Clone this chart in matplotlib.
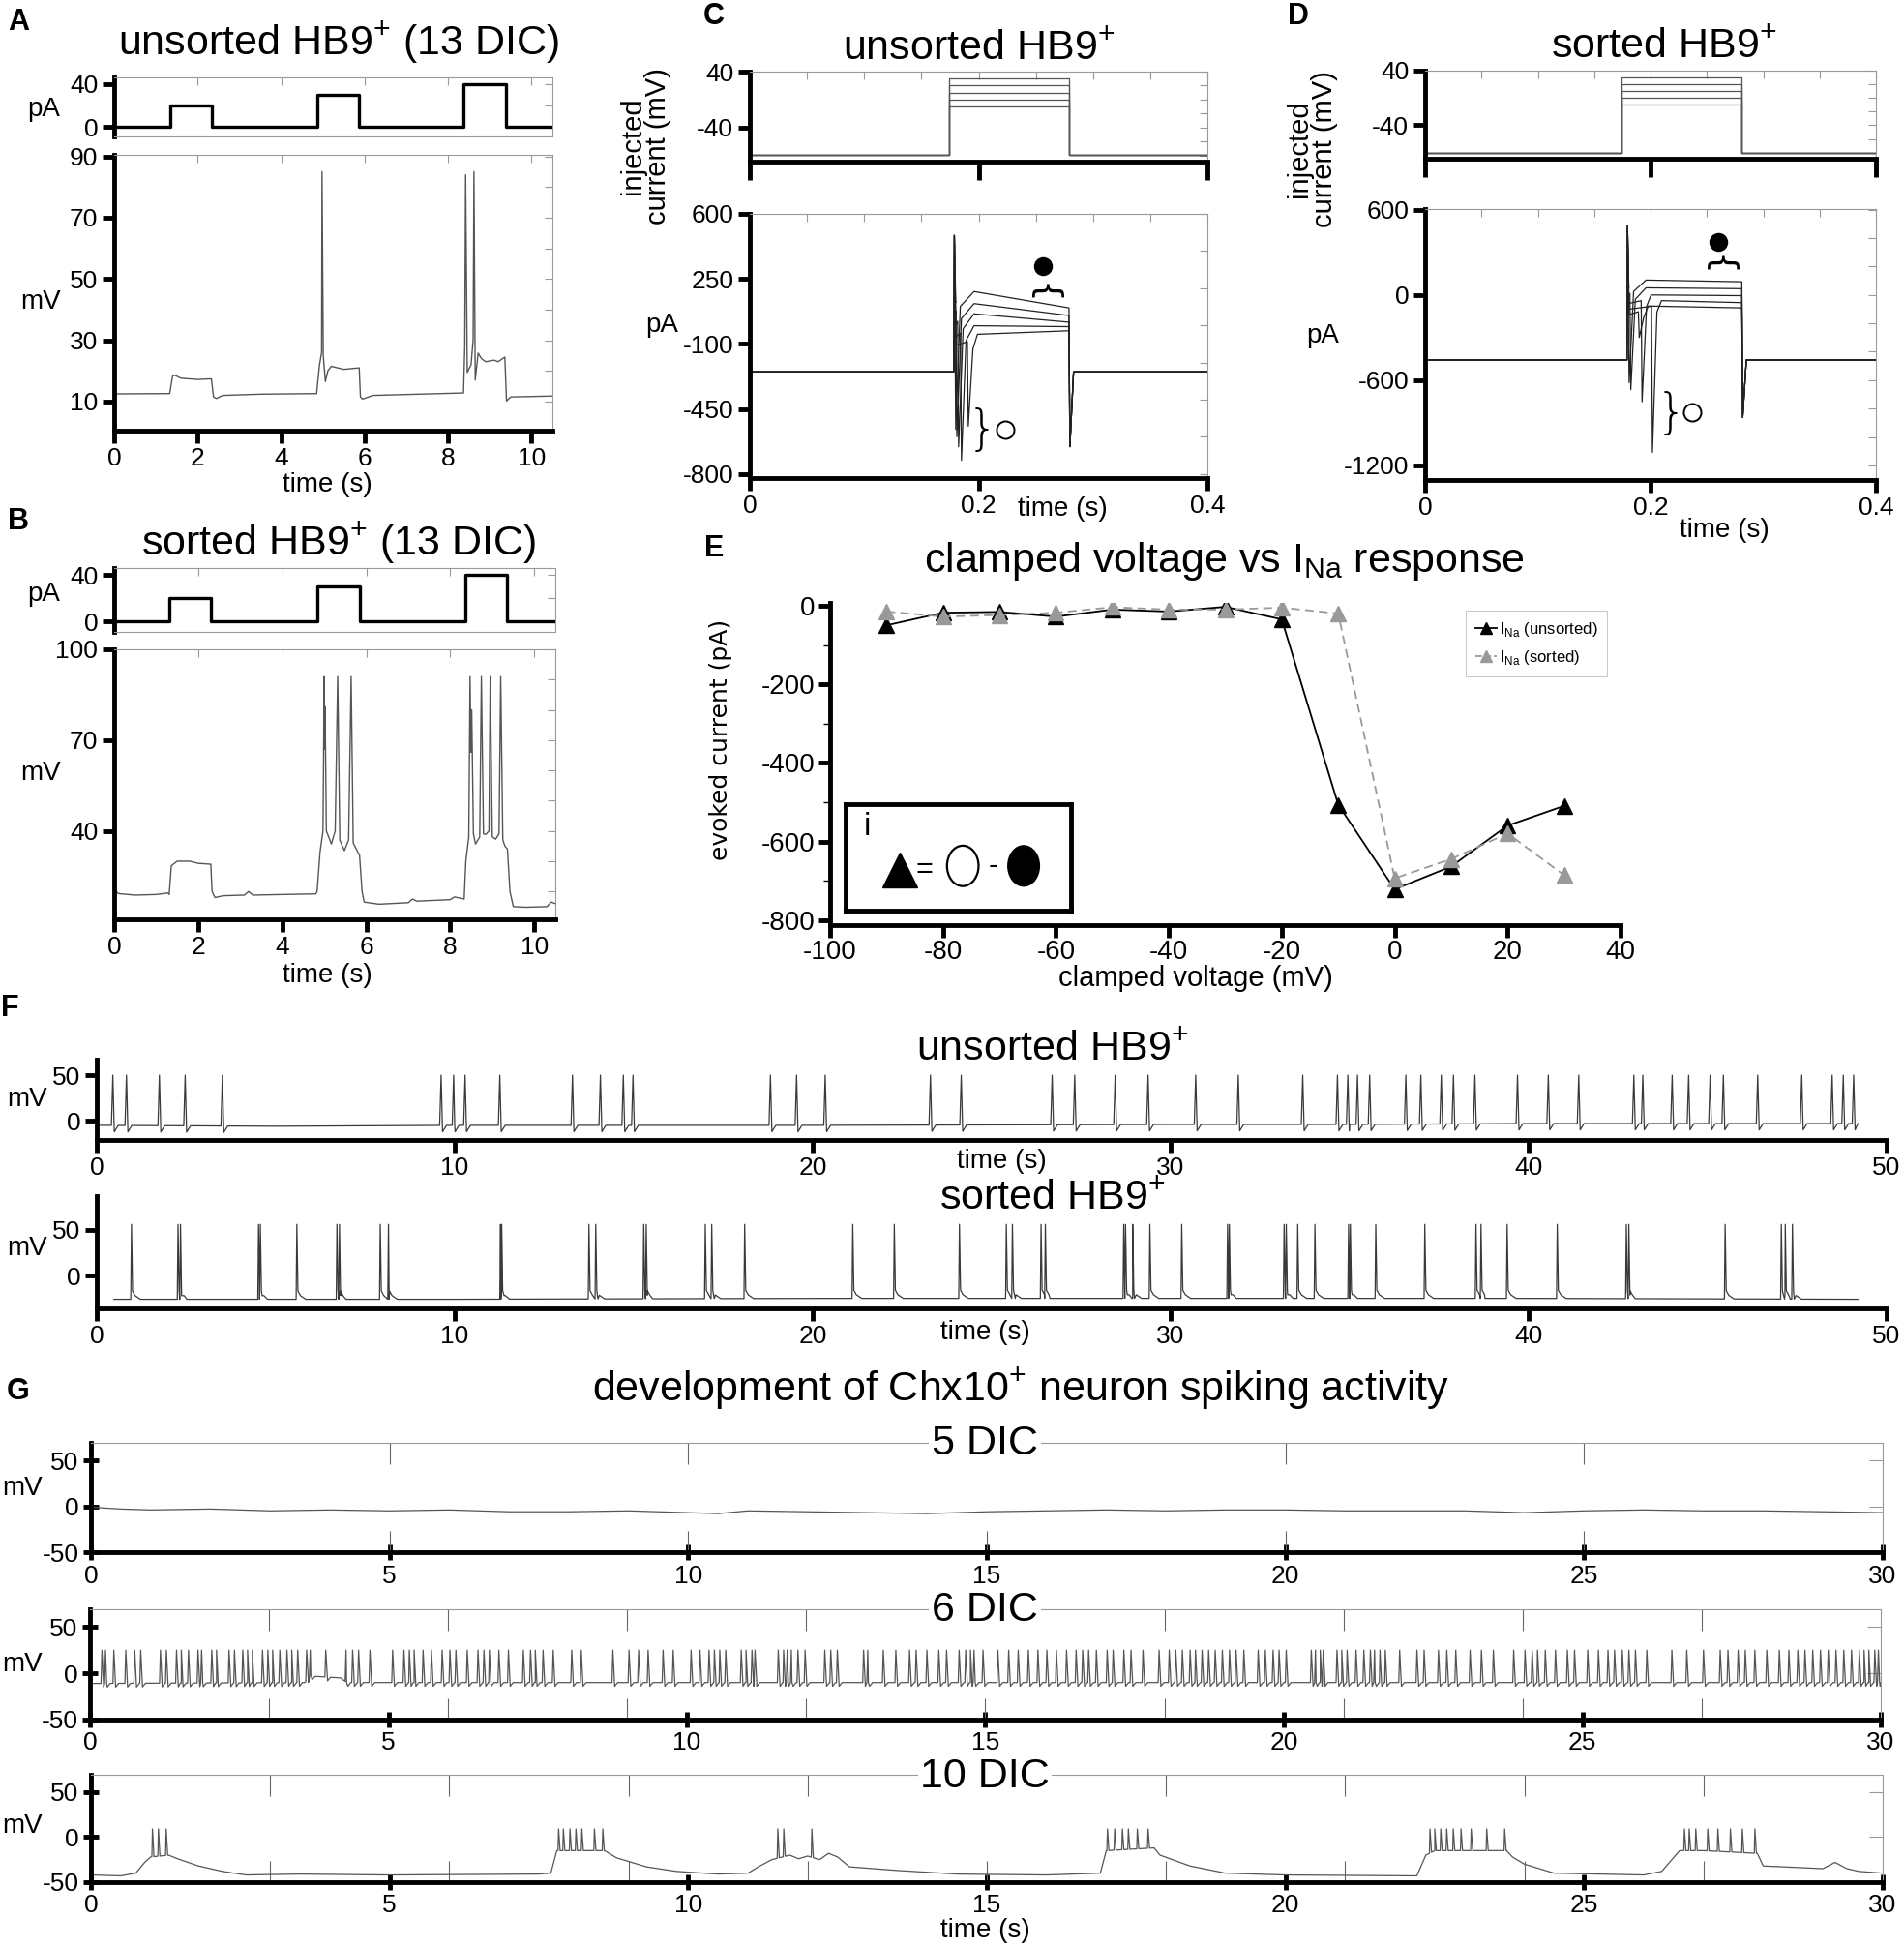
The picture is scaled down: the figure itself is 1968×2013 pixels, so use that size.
import numpy as np
import matplotlib
matplotlib.use("Agg")
import matplotlib.pyplot as plt
from matplotlib.patches import Ellipse
from matplotlib.lines import Line2D
from matplotlib.ticker import MultipleLocator, FixedLocator

plt.rcParams['font.family'] = ['Liberation Sans Narrow', 'Liberation Sans', 'DejaVu Sans']
plt.rcParams['axes.unicode_minus'] = False

# ---------------- data ----------------
# A / B: current-clamp steps (pA) and membrane potential (mV)
A_pulse_on = [1.34, 4.86, 8.37]
A_pulse_off = [2.35, 5.87, 9.38]
A_pulse_amp = [20, 30, 40]
A_t = [0.05, 1.33, 1.40, 1.45, 1.6, 2.0, 2.33, 2.38, 2.45, 2.6, 3.5, 4.85, 4.92, 4.97,
       4.98, 5.01, 5.06, 5.12, 5.2, 5.5, 5.87, 5.9, 5.95, 6.2, 8.37, 8.40, 8.42, 8.46,
       8.55, 8.60, 8.62, 8.65, 8.72, 8.8, 8.9, 9.1, 9.2, 9.36, 9.4, 9.5, 10.5]
A_v = [12.5, 12.6, 18.3, 18.6, 17.6, 17.2, 17.4, 11.5, 11.0, 12.0, 12.4, 12.6, 22, 26,
       85, 25, 16.5, 20, 21.5, 20.5, 21, 11.5, 10.8, 12.0, 12.8, 28, 84, 19.5,
       22, 30, 85, 17, 25.8, 24, 23, 23.5, 23, 24.5, 10.2, 11.5, 11.8]

B_pulse_on = [1.31, 4.83, 8.35]
B_pulse_off = [2.31, 5.84, 9.36]
B_pulse_amp = [20, 30, 40]
B_t = [0.05, 0.1, 0.5, 1.0, 1.28, 1.31, 1.36, 1.5, 1.8, 2.0, 2.3, 2.33, 2.4, 2.6, 3.1, 3.2,
       3.3, 4.0, 4.8, 4.83, 4.9, 4.97, 5.00, 5.01, 5.02, 5.05, 5.17, 5.26, 5.32, 5.37,
       5.48, 5.58, 5.64, 5.69, 5.8, 5.84, 5.9, 5.95, 6.3, 7.0, 7.1, 7.2, 8.0, 8.1, 8.33,
       8.37, 8.44, 8.47, 8.49, 8.51, 8.55, 8.6, 8.7, 8.74, 8.79, 8.85, 8.92, 8.95,
       9.0, 9.08, 9.16, 9.2, 9.25, 9.3, 9.36, 9.42, 9.5, 9.8, 10.3, 10.4, 10.5]
B_v = [20, 19.3, 18.8, 19, 19.5, 19, 28.5, 30, 30, 29.3, 29, 20, 18, 18.6, 18.8, 20,
       18.8, 19, 19.2, 20, 33, 40, 91, 67, 81, 40, 35.7, 40, 91, 37,
       33.5, 37, 91, 36, 33, 32, 20, 16.5, 15.8, 16.3, 17.5, 16.8, 17.3, 18.2, 17.5,
       30, 38, 91, 66, 80, 39, 35.7, 38, 91, 39, 38.9, 40, 91,
       38, 37.3, 39, 91, 37, 35, 34, 20, 15, 14.8, 15.0, 16.5, 16]

# C / D: voltage-clamp steps (mV) and evoked currents (pA), one entry per step
step_levels = [-10, 0, 10, 20, 30]
C_hold, C_on, C_off = -79, 0.174, 0.279
C_base, C_cap_t, C_cap_peak = -250, 0.1788, 484
C_na_t = [0.191, 0.185, 0.1825, 0.181, 0.180]
C_na_peak = [-543, -727, -653, -600, -560]
C_plat_start = [-48, -2, 62, 117, 182]
C_plat_end = [-29, -7, 17, 53, 94]
C_off_peak = -653

D_hold, D_on, D_off = -80, 0.1744, 0.281
D_base, D_cap_t, D_cap_peak = -458, 0.1796, 485
D_na_t = [0.190, 0.2017, 0.1925, 0.1825, 0.181]
D_na_peak = [-300, -1108, -752, -667, -617]
D_plat_start = [-78, -40, 0, 50, 105]
D_plat_end = [-91, -54, -5, 44, 93]
D_off_peak = -863

# E: I-V relation
E_volt = [-90, -80, -70, -60, -50, -40, -30, -20, -10, 0, 10, 20, 30]
E_unsorted = [-50, -18, -16, -28, -10, -15, -3, -35, -506, -721, -663, -559, -509]
E_sorted = [-15, -28, -24, -18, -4, -10, -10, -5, -20, -693, -644, -579, -685]

# F: spontaneous firing (spike times, s)
F1_bp_t = [0.1, 5, 10, 20, 30, 35, 40, 49.2]
F1_bp_v = [-5, -6, -5, -5, -4, -4, -3, -3]
F1_spikes = [0.45, 0.83, 1.75, 2.47, 3.51, 9.62, 9.97, 10.29, 11.26, 13.29, 14.07, 14.71,
             14.98, 18.82, 19.55, 20.35, 23.29, 24.15, 26.69, 27.32, 28.45, 29.37, 30.70,
             31.89, 33.69, 34.66, 34.95, 35.22, 35.56, 36.57, 36.99, 37.56, 37.90, 38.50,
             39.69, 40.55, 41.40, 42.94, 43.19, 44.01, 44.47, 45.07, 45.44, 46.40, 47.63,
             48.48, 48.79, 49.08]
F1_peak = 50

F2_bp_t = [0.48, 10, 20, 30, 40, 49.2]
F2_bp_v = [-26, -26, -25, -25, -25, -26]
F2_spikes = [0.97, 2.27, 2.34, 4.52, 4.57, 5.59, 6.71, 6.78, 7.92, 8.15, 11.28, 11.31,
             13.75, 13.94, 15.28, 15.35, 17.0, 17.18, 18.1, 21.12, 22.28, 24.1, 25.41,
             25.58, 26.38, 26.5, 28.69, 28.74, 28.94, 29.42, 30.31, 31.59, 31.64, 33.17,
             33.23, 33.55, 34.03, 34.97, 35.02, 35.73, 37.1, 38.53, 38.67, 39.4, 40.8,
             42.73, 42.8, 45.49, 47.06, 47.17, 47.37]
F2_peak = 56

# G: Chx10+ development
G5_t = [0, 0.5, 1, 2, 3, 4, 5, 6, 7, 8, 9, 10, 10.5, 11, 12, 13, 14, 15, 16, 17, 18,
        19, 20, 21, 22, 23, 24, 25, 26, 27, 28, 29, 30]
G5_v = [-1, -3, -4, -3, -5, -4, -5, -4, -6, -6, -5, -7, -8, -5, -6, -7, -8, -6, -5, -4,
        -5, -4, -4, -5, -5, -5, -7, -5, -4, -5, -5, -6, -7]

G6_bp_t = [0, 3.6, 3.7, 4.2, 4.3, 30]
G6_bp_v = [-11, -10, -3, -5, -10, -10]
G6_spikes = [0.20, 0.26, 0.40, 0.60, 0.75, 0.85, 1.18, 1.28, 1.45, 1.53, 1.65, 1.81, 1.87,
             2.04, 2.12, 2.33, 2.42, 2.56, 2.64, 2.72, 2.89, 2.98, 3.06, 3.18, 3.30, 3.38,
             3.48, 3.63, 3.69, 3.95, 4.29, 4.40, 4.50, 4.69, 5.07, 5.26, 5.35, 5.43, 5.58,
             5.72, 5.90, 6.03, 6.13, 6.32, 6.50, 6.60, 6.69, 6.85, 7.01, 7.26, 7.38, 7.46,
             7.59, 7.76, 8.07, 8.23, 8.76, 9.03, 9.19, 9.35, 9.60, 9.77, 10.07, 10.22,
             10.37, 10.46, 10.55, 10.65, 10.91, 10.99, 11.09, 11.14, 11.53, 11.62, 11.68,
             11.75, 11.86, 11.98, 12.31, 12.41, 12.52, 12.96, 13.03, 13.29, 13.50, 13.73,
             13.84, 14.02, 14.22, 14.35, 14.56, 14.67, 14.75, 14.81, 14.96, 15.21, 15.39,
             15.55, 15.72, 15.88, 16.03, 16.19, 16.36, 16.52, 16.63, 16.73, 16.86, 17.04,
             17.14, 17.32, 17.44, 17.64, 17.91, 18.08, 18.19, 18.30, 18.43, 18.52, 18.63,
             18.74, 18.85, 18.97, 19.09, 19.20, 19.33, 19.57, 19.69, 19.82, 19.92, 20.04,
             20.46, 20.53, 20.61, 20.66, 20.89, 20.97, 21.06, 21.21, 21.34, 21.45, 21.52,
             21.61, 21.70, 21.94, 22.23, 22.35, 22.59, 22.73, 22.88, 23.12, 23.31, 23.51,
             23.85, 24.04, 24.16, 24.25, 24.38, 24.55, 24.75, 24.87, 25.09, 25.27, 25.43,
             25.54, 25.67, 25.78, 25.89, 26.08, 26.50, 26.75, 27.03, 27.31, 27.44, 27.61,
             27.73, 27.89, 28.09, 28.30, 28.46, 28.61, 28.73, 28.86, 28.99, 29.12, 29.25,
             29.38, 29.51, 29.64, 29.72, 29.80, 29.90, 29.96]
G6_peak = 25

G10_bp_t = [0, 0.5, 0.75, 0.9, 1.0, 1.3, 1.45, 1.8, 2.2, 2.6, 3.5, 5, 7.5, 7.7, 7.8, 8.4,
            8.6, 8.8, 9.3, 9.8, 10.5, 11.0, 11.2, 11.4, 11.7, 11.85, 12.0, 12.2, 12.35,
            12.5, 12.7, 13.5, 14.5, 16.0, 16.9, 17.0, 17.8, 17.9, 18.4, 19.0, 20, 22.2,
            22.35, 22.5, 23.7, 23.8, 24.0, 24.5, 26.0, 26.3, 26.6, 27.0, 27.9, 28.0, 29.0,
            29.2, 29.4, 29.6, 30]
G10_bp_v = [-42, -43, -40, -28, -22, -20, -24, -32, -38, -42, -41, -42, -41, -40, -15, -15,
            -15, -23, -33, -38, -41, -40, -32, -25, -20, -24, -21, -25, -18,
            -22, -33, -37, -41, -42, -40, -15, -12, -20, -32, -40, -42, -43,
            -20, -15, -15, -22, -30, -40, -42, -38, -15, -15, -18, -32, -35,
            -28, -35, -38, -40]
G10_spikes = [1.03, 1.13, 1.26, 7.83, 7.91, 8.02, 8.12, 8.22, 8.43, 8.57, 11.5, 11.6,
              12.07, 17.02, 17.14, 17.27, 17.37, 17.52, 17.70, 22.42, 22.5, 22.6, 22.7,
              22.81, 22.94, 23.11, 23.37, 23.67, 26.68, 26.76, 26.87, 27.07, 27.24, 27.45,
              27.65, 27.86]
G10_peak = 9

# ---------------- helpers ----------------
W, H = 1968, 2013
fig = plt.figure(figsize=(W / 100, H / 100), dpi=100)
THICK = 3.5
GREY = '#999999'
TRACE = '#3a3a3a'


def rect(l, t, r, b):
    return [l / W, 1 - b / H, (r - l) / W, (b - t) / H]


def put(x, y, s, size=19, **kw):
    kw.setdefault('ha', 'center')
    kw.setdefault('va', 'center')
    return fig.text(x / W, 1 - y / H, s, fontsize=size, **kw)


def letter(x, y, s):
    put(x, y, s, size=22, weight='bold', family='Liberation Sans')


def style(ax, top=True, right=True, thick_bottom=True):
    ax.spines['left'].set_linewidth(THICK)
    ax.spines['bottom'].set_linewidth(THICK if thick_bottom else 0.8)
    ax.spines['bottom'].set_color('k' if thick_bottom else GREY)
    ax.spines['top'].set_visible(top)
    ax.spines['right'].set_visible(right)
    for s in ('top', 'right'):
        ax.spines[s].set_linewidth(0.8)
        ax.spines[s].set_color(GREY)
    ax.tick_params(which='major', direction='out', length=9, width=THICK, labelsize=19,
                   pad=3, top=False, right=False)
    ax.tick_params(which='minor', direction='in', length=6, width=0.8, color=GREY,
                   left=False, bottom=False, top=top, right=right)
    ax.xaxis.remove_overlapping_locs = False
    ax.yaxis.remove_overlapping_locs = False


def pulses(on, off, amp, t_end):
    xs, ys = [0], [0]
    for a, b, c in zip(on, off, amp):
        xs += [a, a, b, b]
        ys += [0, c, c, 0]
    return xs + [t_end], ys + [0]


def spike_trace(bp_t, bp_v, spikes, peak, shape):
    xs, ys = list(bp_t), list(bp_v)
    for s in spikes:
        for dt, dv in shape:
            t = s + dt
            xs.append(t)
            ys.append(peak if dv is None else np.interp(t, bp_t, bp_v) + dv)
    xs, ys = np.array(xs), np.array(ys)
    o = np.argsort(xs, kind='stable')
    return xs[o], ys[o]


def clamp_trace(i, base, cap_t, cap_peak, na_t, na_peak, p0, p1, off, off_peak):
    tn = na_t[i]
    xs = [0, cap_t - 0.0005, cap_t, cap_t + 0.0012, tn - 0.0008, tn, tn + 0.004,
          max(tn + 0.008, 0.196), off, off + 0.0008, off + 0.004, 0.4]
    ys = [base, base, cap_peak, p0[i] - 60, p0[i] - 40, na_peak[i], p0[i] - 80,
          p0[i], p1[i], off_peak, base, base]
    return xs, ys


def stim_lines(hold, on, off, level):
    return [0, on, on, off, off, 0.4], [hold, hold, level, level, hold, hold]


# ---------------- A & B ----------------
for (top, lab_y, title, pon, poff, pamp, tt, vv, st_rect, mn_rect, ylim, yt, ty,
     pay, mvy, tly) in [
        (23, 44, 'unsorted HB9$^{\\mathregular{+}}$ (13 DIC)', A_pulse_on, A_pulse_off,
         A_pulse_amp, A_t, A_v, (118, 80, 571, 141), (118, 160, 571, 445), (0.5, 90.5),
         [10, 30, 50, 70, 90], 'A', 113, 312, 501),
        (539, 561, 'sorted HB9$^{\\mathregular{+}}$ (13 DIC)', B_pulse_on, B_pulse_off,
         B_pulse_amp, B_t, B_v, (118, 587, 574, 653), (118, 671, 574, 950), (10.8, 100),
         [40, 70, 100], 'B', 614, 799, 1008)]:
    letter(19, top, ty)
    put(350, lab_y, title, size=31)
    axs = fig.add_axes(rect(*st_rect))
    px, py = pulses(pon, poff, pamp, 10.5)
    axs.plot(px, py, color='k', lw=2.4)
    axs.set_xlim(0, 10.5)
    axs.set_ylim(-9, 46)
    style(axs, thick_bottom=False)
    axs.set_yticks([0, 40])
    axs.set_xticks([])
    axs.yaxis.set_minor_locator(FixedLocator([0, 20, 40]))
    axs.xaxis.set_minor_locator(FixedLocator([2, 4, 6, 8, 10]))
    put(45, pay, 'pA', size=20)

    axm = fig.add_axes(rect(*mn_rect))
    axm.plot(tt, vv, color='#555555', lw=1.0)
    axm.set_xlim(0, 10.5)
    axm.set_ylim(*ylim)
    style(axm)
    axm.set_yticks(yt)
    axm.set_xticks([0, 2, 4, 6, 8, 10])
    axm.yaxis.set_minor_locator(MultipleLocator(10))
    axm.xaxis.set_minor_locator(FixedLocator([2, 4, 6, 8, 10]))
    put(42, mvy, 'mV', size=20)
    put(338, tly, 'time (s)', size=20)

# ---------------- C & D ----------------
panels_cd = [
    dict(letter='C', lx=738, title='unsorted HB9$^{\\mathregular{+}}$', tx=1012, ty=51,
         st=(775, 74, 1248, 167), mn=(775, 221, 1248, 494), ylim=(-822, 600),
         yt=[600, 250, -100, -450, -800], hold=C_hold, on=C_on, off=C_off,
         base=C_base, cap_t=C_cap_t, cap_peak=C_cap_peak, na_t=C_na_t,
         na_peak=C_na_peak, p0=C_plat_start, p1=C_plat_end, off_peak=C_off_peak,
         ijx=667, ijy=151, pax=684, pay=336, tsx=1098, tsy=526,
         fill=(0.256, 319), brace=(0.256, 172), opn=(0.223, -561), vb=(0.203, -566)),
    dict(letter='D', lx=1342, title='sorted HB9$^{\\mathregular{+}}$', tx=1720, ty=49,
         st=(1473, 73, 1939, 164), mn=(1473, 216, 1939, 496), ylim=(-1303, 605),
         yt=[600, 0, -600, -1200], hold=D_hold, on=D_on, off=D_off,
         base=D_base, cap_t=D_cap_t, cap_peak=D_cap_peak, na_t=D_na_t,
         na_peak=D_na_peak, p0=D_plat_start, p1=D_plat_end, off_peak=D_off_peak,
         ijx=1356, ijy=154, pax=1367, pay=347, tsx=1782, tsy=548,
         fill=(0.26, 375), brace=(0.26, 203), opn=(0.2365, -826), vb=(0.218, -838)),
]
for p in panels_cd:
    letter(p['lx'], 17, p['letter'])
    put(p['tx'], p['ty'], p['title'], size=31)
    axs = fig.add_axes(rect(*p['st']))
    for lev in step_levels:
        sx, sy = stim_lines(p['hold'], p['on'], p['off'], lev)
        axs.plot(sx, sy, color='#555555', lw=0.9)
    axs.set_xlim(0, 0.4)
    axs.set_ylim(-89, 40)
    style(axs)
    axs.set_yticks([40, -40])
    axs.set_xticks([0, 0.2, 0.4])
    axs.tick_params(axis='x', which='major', length=14, labelbottom=False)
    axs.yaxis.set_minor_locator(MultipleLocator(20))
    axs.xaxis.set_minor_locator(MultipleLocator(0.05))
    put(p['ijx'], p['ijy'], 'injected\ncurrent (mV)', size=21, rotation=90,
        linespacing=0.95)

    axm = fig.add_axes(rect(*p['mn']))
    for i in range(len(step_levels)):
        cx, cy = clamp_trace(i, p['base'], p['cap_t'], p['cap_peak'], p['na_t'],
                             p['na_peak'], p['p0'], p['p1'], p['off'], p['off_peak'])
        axm.plot(cx, cy, color='#222222', lw=0.9)
    axm.set_xlim(0, 0.4)
    axm.set_ylim(*p['ylim'])
    style(axm)
    axm.set_yticks(p['yt'])
    axm.set_xticks([0, 0.2, 0.4])
    axm.set_xticklabels(['0', '0.2', '0.4'])
    axm.yaxis.set_minor_locator(MultipleLocator(200))
    axm.xaxis.set_minor_locator(MultipleLocator(0.05))
    axm.plot(*p['fill'], 'o', ms=13, color='k')
    axm.plot(*p['opn'], 'o', ms=13, mfc='white', mec='k', mew=1.4)
    axm.text(*p['brace'], '{', rotation=-90, fontsize=26, ha='center', va='center',
             family='DejaVu Sans')
    axm.text(*p['vb'], '}', fontsize=36, ha='center', va='center', family='DejaVu Sans',
             fontweight='light')
    put(p['pax'], p['pay'], 'pA', size=20)
    put(p['tsx'], p['tsy'], 'time (s)', size=20)

# ---------------- E ----------------
letter(738, 567, 'E')
put(1265, 580, 'clamped voltage vs I$_{\\mathregular{Na}}$ response', size=31)
axE = fig.add_axes(rect(858, 623, 1675, 956))
axE.plot(E_volt, E_unsorted, '-', color='k', lw=1.3, marker='^', ms=11, zorder=3)
axE.plot(E_volt, E_sorted, '--', color=GREY, lw=1.3, dashes=(5, 3), marker='^', ms=11,
         zorder=4)
axE.set_xlim(-100, 40)
axE.set_ylim(-812, 7)
style(axE, top=False, right=False)
axE.set_xticks(range(-100, 41, 20))
axE.set_yticks([0, -200, -400, -600, -800])
axE.yaxis.set_minor_locator(FixedLocator([-100, -300, -500, -700]))
axE.tick_params(which='minor', left=True, direction='out', length=5, width=1.0, color='k')
axE.tick_params(axis='both', which='major', labelsize=20, pad=2)
handles = [Line2D([], [], color='k', lw=1.3, marker='^', ms=9),
           Line2D([], [], color=GREY, lw=1.3, ls='--', marker='^', ms=9)]
leg = axE.legend(handles, ['I$_{\\mathregular{Na}}$ (unsorted)', 'I$_{\\mathregular{Na}}$ (sorted)'],
                 loc='upper left', bbox_to_anchor=(0.804, 0.975), fontsize=12,
                 frameon=True, fancybox=False, handlelength=1.3, handletextpad=0.2,
                 borderpad=0.6, labelspacing=0.6, borderaxespad=0)
leg.get_frame().set_edgecolor('#bbbbbb')
leg.get_frame().set_linewidth(0.8)
put(745, 764, 'evoked current (pA)', size=18, rotation=90, family='DejaVu Sans')
put(1236, 1011, 'clamped voltage (mV)', size=21)

axI = fig.add_axes(rect(874, 831, 1107, 941))
axI.set_xlim(0, 1)
axI.set_ylim(0, 1)
axI.set_xticks([])
axI.set_yticks([])
for s in axI.spines.values():
    s.set_linewidth(THICK)
axI.text(0.095, 0.79, 'i', fontsize=24, ha='center', va='center')
axI.plot(0.24, 0.38, marker='^', ms=26, color='k')
axI.text(0.35, 0.38, '=', fontsize=22, ha='center', va='center')
axI.add_patch(Ellipse((0.52, 0.42), 0.14, 0.38, fill=False, lw=1.6, ec='k'))
axI.text(0.655, 0.42, '-', fontsize=22, ha='center', va='center')
axI.add_patch(Ellipse((0.79, 0.42), 0.14, 0.38, color='k'))

# ---------------- F ----------------
letter(10, 1042, 'F')
f_specs = [
    (F1_bp_t, F1_bp_v, F1_spikes, F1_peak, [(-0.04, 0), (0, None), (0.04, -7), (0.15, 0)],
     (100, 1095, 1950, 1178), (-21, 67), 'unsorted HB9$^{\\mathregular{+}}$', 1085, 1136,
     1035, 1200),
    (F2_bp_t, F2_bp_v, F2_spikes, F2_peak,
     [(-0.02, 0), (0, None), (0.03, 9), (0.1, 4), (0.25, 0)],
     (100, 1236, 1950, 1352), (-36, 87), 'sorted HB9$^{\\mathregular{+}}$', 1239, 1290,
     1018, 1377),
]
for bt, bv, sp, pk, shp, r, yl, ttl, tty, mvy, tsx, tsy in f_specs:
    ax = fig.add_axes(rect(*r))
    x, y = spike_trace(bt, bv, sp, pk, shp)
    ax.plot(x, y, color=TRACE, lw=0.9)
    ax.set_xlim(0, 50)
    ax.set_ylim(*yl)
    style(ax, top=False, right=False)
    ax.set_xticks(range(0, 51, 10))
    ax.set_yticks([0, 50])
    put(1088, tty, ttl, size=31)
    put(28, mvy, 'mV', size=20)
    put(tsx, tsy, 'time (s)', size=20, bbox=dict(fc='white', ec='none', pad=1))

# ---------------- G ----------------
letter(19, 1438, 'G')
put(1055, 1435, 'development of Chx10$^{\\mathregular{+}}$ neuron spiking activity', size=31)
g5 = (G5_t, G5_v)
g6 = spike_trace(G6_bp_t, G6_bp_v, G6_spikes, G6_peak,
                 [(-0.015, 0), (0, None), (0.03, -4), (0.08, 0)])
g10 = spike_trace(G10_bp_t, G10_bp_v, G10_spikes, G10_peak,
                  [(-0.01, 0), (0, None), (0.025, 0)])
g_specs = [(g5, (94, 1491, 1946, 1604), '5 DIC', 1492, 1538, 5),
           (g6, (93, 1663, 1944, 1777), '6 DIC', 1664, 1720, 3),
           (g10, (94, 1834, 1946, 1945), '10 DIC', 1836, 1887, 3)]
for (gx, gy), r, ttl, tty, mvy, minor in g_specs:
    ax = fig.add_axes(rect(*r))
    ax.plot(gx, gy, color='#555555', lw=0.9)
    ax.set_xlim(0, 30)
    ax.set_ylim(-50, 69)
    style(ax)
    ax.set_xticks(range(0, 31, 5))
    ax.set_yticks([50, 0, -50])
    ax.tick_params(which='major', direction='inout', length=12)
    ax.xaxis.set_minor_locator(FixedLocator(np.arange(minor, 30, minor)))
    ax.yaxis.set_minor_locator(FixedLocator([0, 50]))
    ax.tick_params(axis='x', which='minor', bottom=True, top=True, direction='in',
                   length=16, color='#666666')
    ax.tick_params(axis='y', which='minor', right=True, direction='in', length=10)
    put(1018, tty, ttl, size=31, bbox=dict(fc='white', ec='none', pad=2))
    put(23, mvy, 'mV', size=20)
put(1018, 1995, 'time (s)', size=20)

fig.savefig('out.png', dpi=100)
